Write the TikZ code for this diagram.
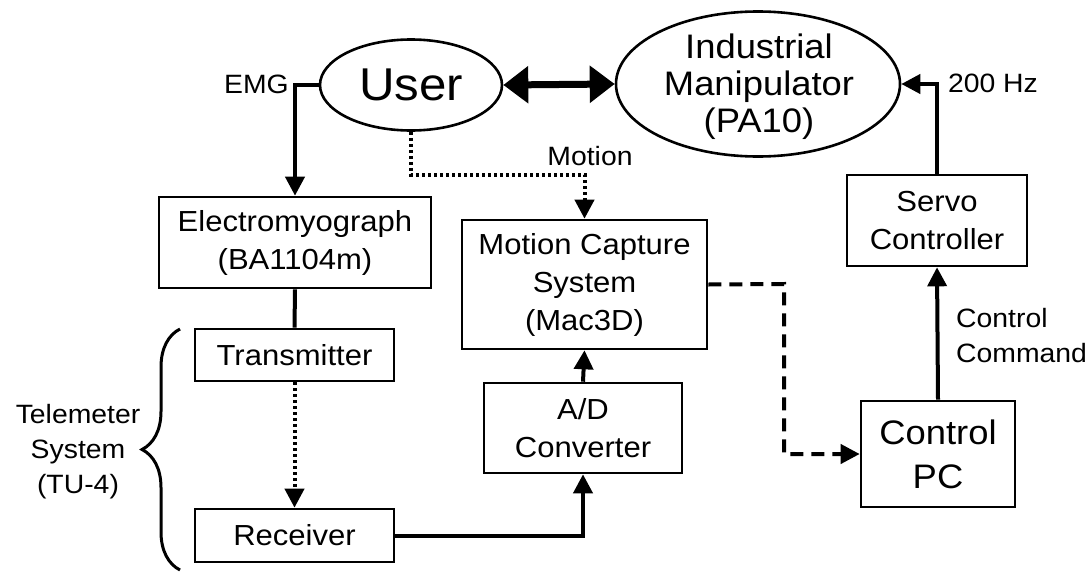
\documentclass[tikz,border=0pt]{standalone}
\usepackage{fontspec}
\setmainfont{Liberation Sans}[FakeStretch=1.07]
\usetikzlibrary{arrows.meta,shapes.geometric,decorations.pathreplacing}

\tikzset{
  blk/.style={draw, line width=2.6pt, inner sep=0pt, align=center,
              font=\fontsize{29}{38}\selectfont},
  lbl/.style={inner sep=0pt, align=center, font=\fontsize{26.5}{35}\selectfont},
  conn/.style={line width=4pt},
  arr/.style={conn, -{Triangle[length=19pt,width=19pt]}},
  dotline/.style={dash pattern=on 3pt off 3pt},
  dashline/.style={dash pattern=on 13pt off 8pt}
}

\begin{document}
\begin{tikzpicture}[x=1pt,y=-1pt]
\useasboundingbox (0,0) rectangle (1092,573);

% ellipses
\node[draw, ellipse, line width=2.6pt, minimum width=182pt, minimum height=91pt,
      inner sep=0pt, font=\fontsize{46}{46}\selectfont] (user) at (411,85) {User};
\node[draw, ellipse, line width=2.6pt, minimum width=284pt, minimum height=145pt,
      inner sep=0pt] (manip) at (758,84) {};
\node[inner sep=0pt, align=center, font=\fontsize{34}{37}\selectfont] (maniptext) at (759,87)
  {Industrial\\Manipulator\\(PA10)};

% blocks
\node[blk, minimum width=272pt, minimum height=91pt] (emgph) at (295,242.5)
  {Electromyograph\\(BA1104m)};
\node[blk, minimum width=199pt, minimum height=52pt] (trans) at (294.5,355) {Transmitter};
\node[blk, minimum width=199pt, minimum height=53pt] (recv) at (294.5,535.5) {Receiver};
\node[blk, minimum width=245pt, minimum height=129pt] (mocap) at (584.5,284.5)
  {Motion Capture\\System\\(Mac3D)};
\node[blk, minimum width=198pt, minimum height=90pt] (adc) at (583,428) {A/D\\Converter};
\node[blk, minimum width=180pt, minimum height=91pt] (servo) at (937,220.5) {Servo\\Controller};
\node[blk, minimum width=154pt, minimum height=106pt,
      font=\fontsize{34}{44}\selectfont] (cpc) at (938,454) {Control\\PC};

% labels
\node[lbl, anchor=east] (emglbl) at (289,84) {EMG};
\node[lbl] (motionlbl) at (590,156) {Motion};
\node[lbl] (hzlbl) at (993,83) {200 Hz};
\node[lbl, align=left, anchor=west] (cmdlbl) at (956,336) {Control\\Command};
\node[lbl] (telelbl) at (78,452) {Telemeter\\System\\(TU-4)};

% user <-> manipulator
\draw[line width=7pt, {Triangle[length=25pt,width=36pt]}-{Triangle[length=25pt,width=36pt]}]
  (user.east) -- (manip.west);

% EMG path
\draw[arr] (user.west) -| (emgph.north);
\draw[conn] (emgph.south) -- (trans.north);
\draw[arr, dotline] (trans.south) -- (recv.north);
\draw[arr] (recv.east) -| (adc.south);
\draw[arr] (adc.north) -- (mocap.south);

% motion path
\draw[arr, dotline] (user.south) -- ++(0,43) -| (mocap.north);

% capture data to control PC
\coordinate (dk) at (784,284);
\draw[arr, dashline] (mocap.east) -- (dk) |- (cpc.west);

% control loop
\draw[arr] (cpc.north) -- (servo.south);
\draw[arr] (servo.north) |- (manip.east);

% telemeter brace
\draw[line width=3pt, decorate, decoration={brace, amplitude=38pt, aspect=0.5}]
  (180,570) -- (180,329);
\end{tikzpicture}
\end{document}
